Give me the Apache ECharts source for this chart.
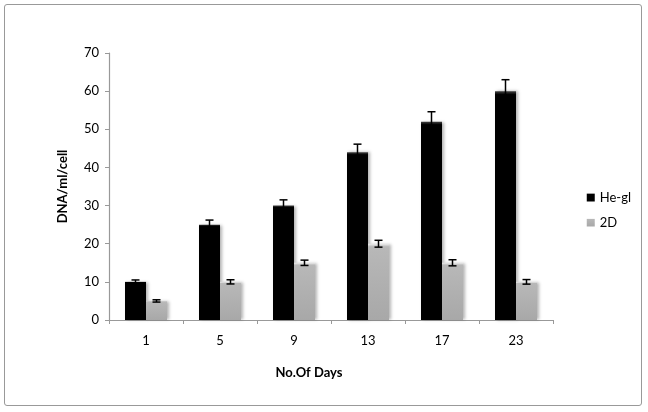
<!DOCTYPE html>
<html>
<head>
<meta charset="utf-8">
<script src="https://cdn.jsdelivr.net/npm/echarts@6/dist/echarts.min.js"></script>
<style>
html,body{margin:0;padding:0;background:#fff;}
#wrap{position:absolute;left:4px;top:4px;width:638px;height:402px;border:1.5px solid #999;border-radius:3px;box-sizing:border-box;}
#c{position:absolute;left:0;top:0;width:648px;height:412px;}
</style>
</head>
<body>
<div id="wrap"></div>
<div id="c"></div>
<script>
const days = ['1', '5', '9', '13', '17', '23'];
const heGl = [10, 25, 30, 44, 52, 60];
const heGlErr = [0.5, 1.2, 1.5, 2.1, 2.6, 3];
const twoD = [5, 10, 15, 20, 15, 10];
const twoDErr = [0.3, 0.55, 0.7, 0.9, 0.8, 0.6];
const yTicks = [0, 10, 20, 30, 40, 50, 60, 70];

const FONT = 'Lato, "Open Sans", sans-serif';
const BW = 21;

function errData(vals, errs) {
  return vals.map((v, i) => [i, v - errs[i], v + errs[i]]);
}
function errSeries(name, vals, errs, offset) {
  return {
    type: 'custom',
    name: name + ' err',
    z: 5,
    silent: true,
    data: errData(vals, errs),
    renderItem: function (params, api) {
      const i = api.value(0);
      const lo = api.coord([i, api.value(1)]);
      const hi = api.coord([i, api.value(2)]);
      const x = lo[0] + offset;
      const cw = 4;
      const st = { stroke: '#000', lineWidth: 1.5 };
      return {
        type: 'group',
        children: [
          { type: 'line', shape: { x1: x, y1: lo[1], x2: x, y2: hi[1] }, style: st },
          { type: 'line', shape: { x1: x - cw, y1: hi[1], x2: x + cw, y2: hi[1] }, style: st },
          { type: 'line', shape: { x1: x - cw, y1: lo[1], x2: x + cw, y2: lo[1] }, style: st }
        ]
      };
    }
  };
}

const chart = echarts.init(document.getElementById('c'));
chart.setOption({
  animation: false,
  backgroundColor: 'transparent',
  grid: { left: 109, right: 95, top: 53, bottom: 92 },
  legend: {
    right: 12,
    top: 186,
    orient: 'vertical',
    itemWidth: 8,
    itemHeight: 8,
    itemGap: 12,
    icon: 'rect',
    data: ['He-gl', '2D'],
    textStyle: { fontFamily: FONT, fontSize: 13, color: '#000' }
  },
  xAxis: {
    type: 'category',
    data: days,
    name: 'No.Of Days',
    nameLocation: 'middle',
    nameGap: 46,
    nameTextStyle: { fontFamily: FONT, fontSize: 13, fontWeight: 'bold', color: '#000', padding: [0, 44, 0, 0] },
    axisLine: { lineStyle: { color: '#999', width: 1.2 } },
    axisTick: { show: true, length: 4, lineStyle: { color: '#999' } },
    axisLabel: { fontFamily: FONT, fontSize: 13, color: '#000', margin: 14 }
  },
  yAxis: {
    type: 'value',
    min: yTicks[0],
    max: yTicks[yTicks.length - 1],
    interval: 10,
    name: 'DNA/ml/cell',
    nameLocation: 'middle',
    nameGap: 40,
    nameTextStyle: { fontFamily: FONT, fontSize: 13, fontWeight: 'bold', color: '#000' },
    axisLine: { show: true, lineStyle: { color: '#999', width: 1.2 } },
    axisTick: { show: true, length: 4, lineStyle: { color: '#999' } },
    splitLine: { show: false },
    axisLabel: { fontFamily: FONT, fontSize: 13, color: '#000', margin: 10 }
  },
  series: [
    {
      name: 'He-gl',
      type: 'bar',
      data: heGl,
      barWidth: BW,
      barGap: '0%',
      itemStyle: {
        color: new echarts.graphic.LinearGradient(0, 0, 0, 1, [
          { offset: 0, color: '#444' },
          { offset: 0.015, color: '#000' },
          { offset: 1, color: '#000' }
        ]),
        shadowColor: 'rgba(0,0,0,0.3)',
        shadowBlur: 3,
        shadowOffsetX: 2,
        shadowOffsetY: 0
      }
    },
    {
      name: '2D',
      type: 'bar',
      data: twoD,
      barWidth: BW,
      barGap: '0%',
      itemStyle: {
        color: new echarts.graphic.LinearGradient(0, 0, 0, 1, [
          { offset: 0, color: '#f0f0f0' },
          { offset: 0.04, color: '#b8b8b8' },
          { offset: 1, color: '#a8a8a8' }
        ]),
        shadowColor: 'rgba(0,0,0,0.3)',
        shadowBlur: 3,
        shadowOffsetX: 2,
        shadowOffsetY: 0
      }
    },
    errSeries('He-gl', heGl, heGlErr, -BW / 2),
    errSeries('2D', twoD, twoDErr, BW / 2)
  ]
});
</script>
</body>
</html>
